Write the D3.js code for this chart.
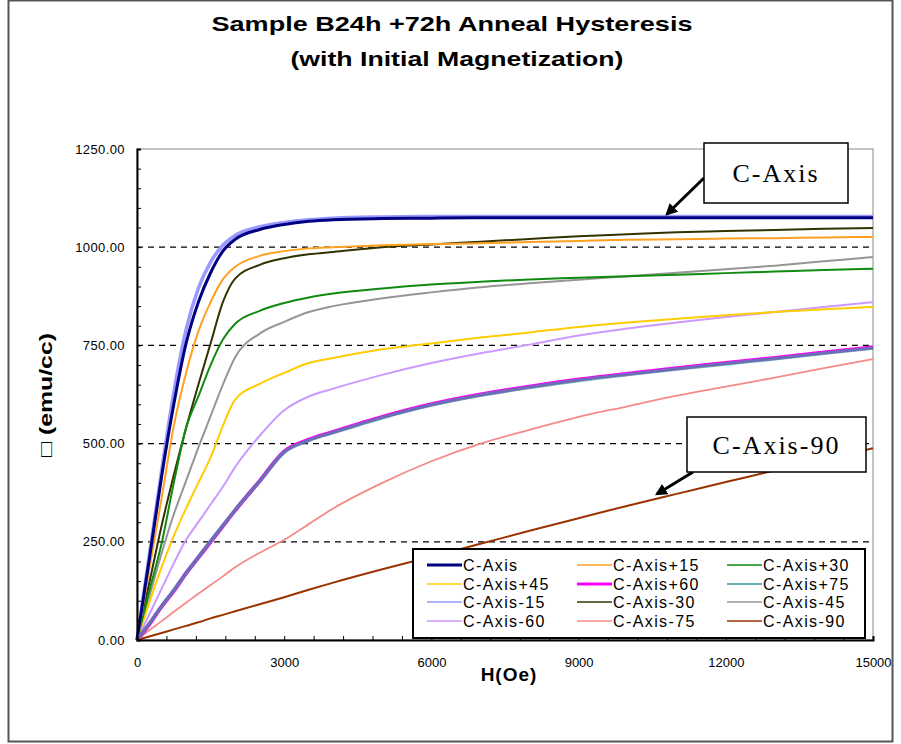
<!DOCTYPE html>
<html>
<head>
<meta charset="utf-8">
<script src="https://d3js.org/d3.v7.min.js"></script>
<style>
body { margin: 0; background: #fff; }
</style>
</head>
<body>
<div id="chart"></div>
<script>
// Field steps (Oe) shared by every curve
var fieldH = [0, 250, 500, 750, 1000, 1250, 1500, 1750, 2000, 2500, 3000, 3500, 4000, 5000, 6000, 7000, 8000, 9000, 10000, 11000, 12000, 13000, 14000, 15000];

// Magnetization (emu/cc)
var cAxis    = [0, 205, 415, 600, 755, 860, 935, 990, 1020, 1045, 1058, 1066, 1070, 1073, 1074, 1075, 1075, 1075, 1075, 1075, 1075, 1075, 1075, 1075];
var cAxisP15 = [0, 180, 360, 545, 680, 785, 860, 918, 950, 978, 990, 997, 1000, 1005, 1008, 1010, 1013, 1016, 1019, 1020, 1022, 1023, 1025, 1026];
var cAxisP30 = [0, 125, 245, 400, 540, 620, 700, 765, 805, 838, 858, 872, 882, 895, 905, 912, 918, 922, 926, 930, 934, 938, 942, 945];
var cAxisP45 = [0, 95, 185, 265, 335, 400, 465, 545, 612, 652, 680, 705, 718, 740, 755, 770, 783, 797, 808, 818, 827, 835, 842, 848];
var cAxisP60 = [0, 40, 85, 125, 170, 210, 250, 290, 330, 405, 480, 510, 530, 568, 600, 625, 645, 663, 678, 692, 705, 718, 732, 745];
var cAxisP75 = [0, 42, 86, 127, 170, 211, 252, 291, 331, 404, 478, 508, 528, 566, 598, 623, 643, 661, 676, 690, 703, 716, 730, 743];
var cAxisM15 = [0, 215, 430, 630, 790, 895, 962, 1005, 1030, 1052, 1063, 1070, 1074, 1077, 1078, 1078, 1078, 1078, 1078, 1078, 1078, 1078, 1078, 1078];
var cAxisM30 = [0, 145, 290, 420, 540, 650, 755, 860, 920, 955, 972, 982, 988, 1000, 1007, 1014, 1021, 1028, 1033, 1038, 1041, 1044, 1047, 1049];
var cAxisM45 = [0, 110, 220, 320, 405, 490, 570, 650, 720, 780, 810, 835, 850, 870, 885, 898, 908, 917, 926, 935, 944, 953, 964, 975];
var cAxisM60 = [0, 65, 130, 195, 255, 300, 345, 390, 440, 520, 585, 620, 640, 675, 705, 730, 752, 775, 793, 808, 822, 835, 848, 860];
var cAxisM75 = [0, 25, 48, 72, 95, 118, 140, 162, 185, 222, 255, 295, 335, 400, 455, 500, 535, 568, 595, 622, 645, 668, 692, 715];
var cAxisM90 = [0, 9, 18, 27, 36, 45, 55, 64, 73, 91, 109, 128, 146, 180, 212, 245, 278, 310, 342, 372, 402, 432, 460, 488];

var seriesNames = ["C-Axis", "C-Axis+15", "C-Axis+30", "C-Axis+45", "C-Axis+60", "C-Axis+75",
                   "C-Axis-15", "C-Axis-30", "C-Axis-45", "C-Axis-60", "C-Axis-75", "C-Axis-90"];
var seriesValues = [cAxis, cAxisP15, cAxisP30, cAxisP45, cAxisP60, cAxisP75,
                    cAxisM15, cAxisM30, cAxisM45, cAxisM60, cAxisM75, cAxisM90];

var xTicks = [0, 3000, 6000, 9000, 12000, 15000];
var yTicks = [0, 250, 500, 750, 1000, 1250];
var gridValues = [250, 500, 750, 1000];

// line styles, same order as seriesNames
var colors = ["#000080", "#ffa020", "#108a10", "#ffcc00", "#ff00ff", "#339999",
              "#9999ff", "#333300", "#969696", "#cc99ff", "#f58a8a", "#993300"];
var widths = [3, 2, 2, 2, 4, 3.6, 3.5, 2, 2, 2, 1.8, 2];
var legendWidths = [3, 1.5, 1.5, 1.5, 3, 1.5, 1.5, 1.5, 1.5, 1.5, 1.5, 1.5];
var drawOrder = [11, 10, 9, 8, 7, 3, 2, 1, 6, 0, 4, 5];

var sans = "Liberation Sans, Arial, sans-serif";
var serif = "Liberation Serif, Times New Roman, serif";

var svgWidth = 901;
var svgHeight = 744;
var margin = { top: 149, right: 28, bottom: 104, left: 137 };
var width = svgWidth - margin.left - margin.right;
var height = svgHeight - margin.top - margin.bottom;

var svg = d3.select("#chart")
  .append("svg")
  .attr("width", svgWidth)
  .attr("height", svgHeight)
  .attr("font-family", sans);

// outer frame
svg.append("rect")
  .attr("x", 8.5).attr("y", 0.5)
  .attr("width", 884).attr("height", 741)
  .attr("fill", "#fff")
  .attr("stroke", "#555")
  .attr("stroke-width", 2);

// title
svg.append("text")
  .attr("x", 452).attr("y", 31)
  .attr("text-anchor", "middle")
  .attr("font-size", 21).attr("font-weight", "bold")
  .attr("textLength", 481).attr("lengthAdjust", "spacingAndGlyphs")
  .text("Sample B24h +72h Anneal Hysteresis");

svg.append("text")
  .attr("x", 457).attr("y", 66)
  .attr("text-anchor", "middle")
  .attr("font-size", 21).attr("font-weight", "bold")
  .attr("textLength", 333).attr("lengthAdjust", "spacingAndGlyphs")
  .text("(with Initial Magnetization)");

var chartGroup = svg.append("g")
  .attr("transform", `translate(${margin.left}, ${margin.top})`);

var xScale = d3.scaleLinear().domain([0, 15000]).range([0, width]);
var yScale = d3.scaleLinear().domain([0, 1250]).range([height, 0]);

// plot frame (top/right grey)
chartGroup.append("rect")
  .attr("width", width).attr("height", height)
  .attr("fill", "#fff")
  .attr("stroke", "#888")
  .attr("stroke-width", 1);

// dashed grid
chartGroup.selectAll(".grid")
  .data(gridValues)
  .enter().append("line")
  .attr("class", "grid")
  .attr("x1", 0).attr("x2", width)
  .attr("y1", d => yScale(d)).attr("y2", d => yScale(d))
  .attr("stroke", "#000")
  .attr("stroke-width", 1.2)
  .attr("stroke-dasharray", "6,5");

// curves
var line = d3.line()
  .x((d, i) => xScale(fieldH[i]))
  .y(d => yScale(d))
  .curve(d3.curveMonotoneX);

drawOrder.forEach(function(k) {
  chartGroup.append("path")
    .datum(seriesValues[k])
    .attr("d", line)
    .attr("fill", "none")
    .attr("stroke", colors[k])
    .attr("stroke-width", widths[k])
    .attr("stroke-opacity", k == 5 ? 0.7 : 1)
    .attr("stroke-linejoin", "round");
});

// axes: ticks point inward, minor ticks every 50 / 600
var yMinor = d3.axisLeft(yScale).tickValues(d3.range(0, 1251, 50)).tickSize(-4).tickFormat("");
var xMinor = d3.axisBottom(xScale).tickValues(d3.range(0, 15001, 600)).tickSize(-4).tickFormat("");

chartGroup.append("g").call(yMinor)
  .call(g => g.select(".domain").attr("stroke-width", 2));
chartGroup.append("g").attr("transform", `translate(0, ${height})`).call(xMinor)
  .call(g => g.select(".domain").attr("stroke-width", 2));

var leftAxis = d3.axisLeft(yScale).tickValues(yTicks).tickSize(0).tickPadding(12).tickFormat(d3.format(".2f"));
var bottomAxis = d3.axisBottom(xScale).tickValues(xTicks).tickSize(0).tickPadding(18).tickFormat(d3.format("d"));

chartGroup.append("g").call(leftAxis)
  .call(g => g.select(".domain").remove())
  .selectAll("text")
  .attr("font-size", 13).attr("letter-spacing", 0.4)
  .attr("font-family", sans);

chartGroup.append("g").attr("transform", `translate(0, ${height})`).call(bottomAxis)
  .call(g => g.select(".domain").remove())
  .selectAll("text")
  .attr("font-size", 13)
  .attr("font-family", sans);

// axis titles
svg.append("text")
  .attr("x", 509).attr("y", 681)
  .attr("text-anchor", "middle")
  .attr("font-size", 19).attr("font-weight", "bold")
  .attr("letter-spacing", 1)
  .text("H(Oe)");

svg.append("text")
  .attr("transform", "translate(52, 395) rotate(-90)")
  .attr("text-anchor", "middle")
  .attr("font-size", 18).attr("font-weight", "bold")
  .attr("textLength", 124).attr("lengthAdjust", "spacingAndGlyphs")
  .text("\u25A1 (emu/cc)");

// legend
var legendCols = [427, 577, 727];
var legendRows = [565, 584, 602, 621];

svg.append("rect")
  .attr("x", 413).attr("y", 549)
  .attr("width", 452).attr("height", 89)
  .attr("fill", "#fff")
  .attr("stroke", "#000")
  .attr("stroke-width", 2);

var legendItems = svg.selectAll(".legend")
  .data(seriesNames)
  .enter().append("g")
  .attr("class", "legend")
  .attr("transform", (d, i) => `translate(${legendCols[i % 3]}, ${legendRows[Math.floor(i / 3)]})`);

legendItems.append("line")
  .attr("x1", 0).attr("x2", 35)
  .attr("stroke", (d, i) => colors[i])
  .attr("stroke-width", (d, i) => legendWidths[i]);

legendItems.append("text")
  .attr("x", 36).attr("dy", "0.35em")
  .attr("font-size", 16).attr("letter-spacing", 1.4)
  .text(d => d);

// callouts
svg.append("defs").append("marker")
  .attr("id", "arrow")
  .attr("viewBox", "0 0 10 10")
  .attr("refX", 8).attr("refY", 5)
  .attr("markerWidth", 4).attr("markerHeight", 4)
  .attr("orient", "auto")
  .append("path")
  .attr("d", "M0,0 L10,5 L0,10 z")
  .attr("fill", "#000");

function callout(x, y, w, h, label, x1, y1, x2, y2) {
  svg.append("line")
    .attr("x1", x1).attr("y1", y1).attr("x2", x2).attr("y2", y2)
    .attr("stroke", "#000").attr("stroke-width", 3)
    .attr("marker-end", "url(#arrow)");
  svg.append("rect")
    .attr("x", x).attr("y", y).attr("width", w).attr("height", h)
    .attr("fill", "#fff").attr("stroke", "#000").attr("stroke-width", 1.5);
  svg.append("text")
    .attr("x", x + w / 2).attr("y", y + h / 2).attr("dy", "0.35em")
    .attr("text-anchor", "middle")
    .attr("font-family", serif)
    .attr("font-size", 26).attr("letter-spacing", 2)
    .text(label);
}

callout(704, 143, 144, 60, "C-Axis", 704, 178, 667, 214);
callout(687, 417, 179, 55, "C-Axis-90", 693, 472, 657, 494);
</script>
</body>
</html>
